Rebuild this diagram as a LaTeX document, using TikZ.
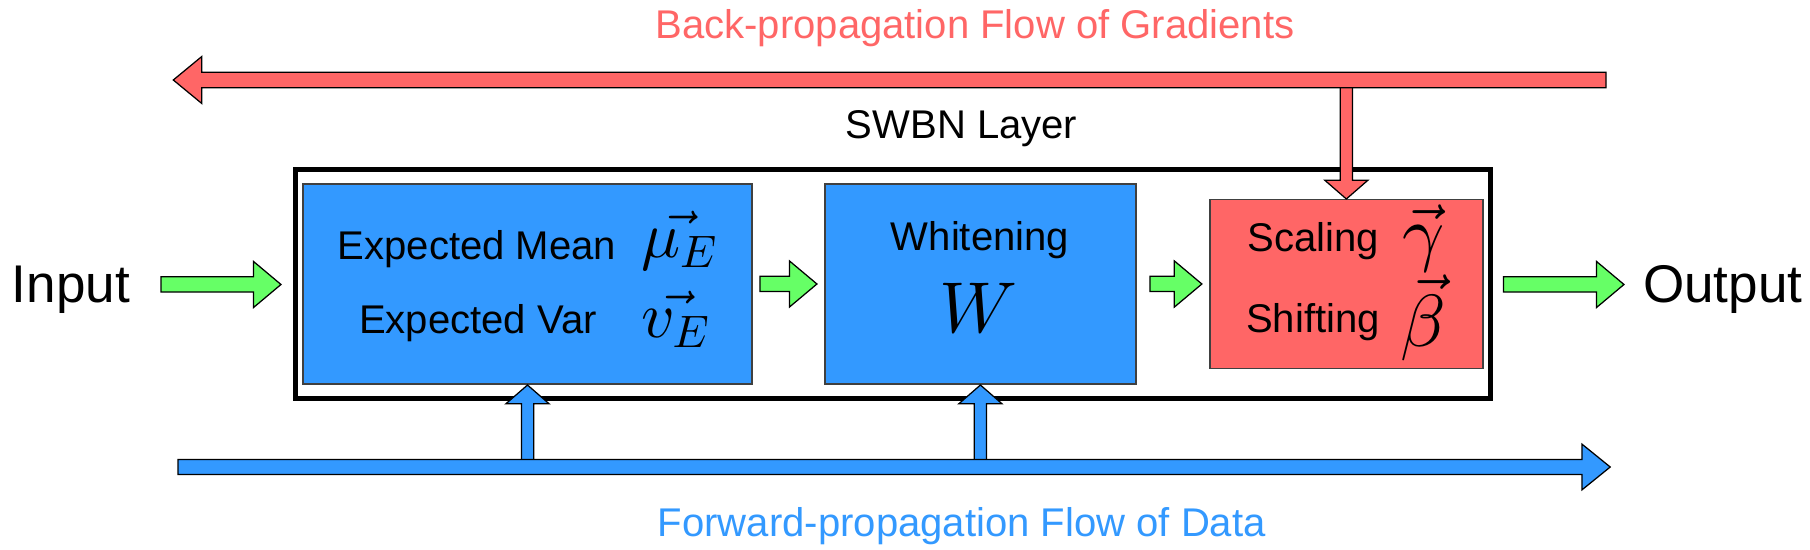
\documentclass[tikz,border=0pt]{standalone}
\usepackage{amsmath}
\usepackage[no-math]{fontspec}
\setmainfont{Liberation Sans}
\usetikzlibrary{shapes}
\usetikzlibrary{shapes.arrows}
\usetikzlibrary{fit}
\usetikzlibrary{positioning}

% scalable math fonts
\DeclareFontFamily{OML}{cmm}{\skewchar\font'177}
\DeclareFontShape{OML}{cmm}{m}{it}{<->cmmi10}{}
\DeclareFontFamily{OMS}{cmsy}{\skewchar\font'60}
\DeclareFontShape{OMS}{cmsy}{m}{n}{<->cmsy10}{}
\DeclareFontShape{OT1}{cmr}{m}{n}{<->cmr10}{}

\definecolor{gradred}{RGB}{255,102,102}
\definecolor{datablue}{RGB}{51,153,255}
\definecolor{flowgreen}{RGB}{102,255,102}

\begin{document}
\begin{tikzpicture}[x=0.02cm, y=-0.02cm, every node/.style={inner sep=0pt, outer sep=0pt}, txt/.style={font=\fontsize{22.8}{27}\selectfont}, io/.style={font=\fontsize{30.2}{36}\selectfont}, box/.style={rectangle, draw=black!75, line width=0.03cm, minimum height=4cm}, flow/.style={single arrow, draw, fill=flowgreen, line width=0.025cm, inner ysep=0.14cm, minimum width=0.9cm, single arrow head extend=0.31cm, single arrow tip angle=80, anchor=tail}, bar/.style={single arrow, draw, line width=0.025cm, inner ysep=0.143cm, minimum width=0.9cm, single arrow head extend=0.315cm, single arrow tip angle=79, anchor=tail}, branch/.style={single arrow, draw, line width=0.025cm, inner ysep=0.11cm, minimum width=0.84cm, single arrow head extend=0.31cm, single arrow tip angle=98, anchor=tail}]
	  \useasboundingbox (0,0) rectangle (1810,550);
	  \coordinate (backstart) at (1606,80);
	  \coordinate (fwdstart) at (178,467);

	  \node[box, fill=datablue, minimum width=8.98cm] (stats) at (527.5,284) {};
	  \node[box, fill=datablue, minimum width=6.22cm] (white) [right = 1.46cm of stats] {};
	  \node[box, fill=gradred, minimum width=5.46cm, minimum height=3.38cm] (affine) [right = 1.48cm of white] {};
	  \node[draw, line width=0.09cm, inner xsep=0.15cm, inner ysep=0.29cm, fit=(stats)(affine)] (layer) {};

	  \node[txt, anchor=base] (layerlbl) at (961.5,139) {SWBN Layer};
	  \node[txt, anchor=base] (mean) at (477,260) {Expected Mean};
	  \node[txt, anchor=base] (var) at (478,334) {Expected Var};
	  \node[anchor=base west, font=\fontsize{37}{44}\selectfont] (mu) at (641,258) {$\vec{\mu_E}$};
	  \node[anchor=base west, font=\fontsize{37}{44}\selectfont] (nu) at (641,338) {$\vec{v_E}$};
	  \node[txt, anchor=base] (whiten) at (980,251) {Whitening};
	  \node[anchor=base, font=\fontsize{41}{48}\selectfont] (wmat) at (979,333) {$W$};
	  \node[txt, anchor=base] (scale) at (1313,252) {Scaling};
	  \node[txt, anchor=base] (shift) at (1313,333) {Shifting};
	  \node[anchor=base west, font=\fontsize{42}{50}\selectfont] (gam) at (1402,258) {$\vec{\gamma}$};
	  \node[anchor=base west, font=\fontsize{42}{50}\selectfont] (bet) at (1400,347) {$\vec{\beta}$};

	  \node[io, anchor=base east] (input) at (130,302.5) {Input};
	  \node[io, anchor=base west] (output) at (1643,302.5) {Output};
	  \node[txt, text=gradred, anchor=base] (backlbl) at (975,39) {Back-propagation Flow of Gradients};
	  \node[txt, text=datablue, anchor=base] (fwdlbl) at (961.8,537) {Forward-propagation Flow of Data};

	  % gradients
	  \node[branch, fill=gradred, rotate=-90, minimum height=2.38cm] (gradin) at (affine |- backstart) {};
	  \node[bar, fill=gradred, rotate=180, minimum height=28.66cm] (back) at (backstart) {};

	  % data
	  \node[branch, fill=datablue, rotate=90, minimum height=1.64cm] (datastats) at (stats |- fwdstart) {};
	  \node[branch, fill=datablue, rotate=90, minimum height=1.64cm] (datawhite) at (white |- fwdstart) {};
	  \node[bar, fill=datablue, minimum height=28.65cm, minimum width=0.89cm, inner ysep=0.14cm, single arrow head extend=0.305cm, single arrow tip angle=78] (fwd) at (fwdstart) {};

	  \node[flow, minimum height=2.4cm] (in2stats) at (161,284.5) {};
	  \node[flow, minimum height=1.14cm] (stats2white) at ([xshift=0.16cm]stats.east) {};
	  \node[flow, minimum height=1.04cm] (white2affine) at ([xshift=0.28cm]white.east) {};
	  \node[flow, minimum height=2.41cm] (affine2out) at (1503.5,284.5) {};
	\end{tikzpicture}
\end{document}
